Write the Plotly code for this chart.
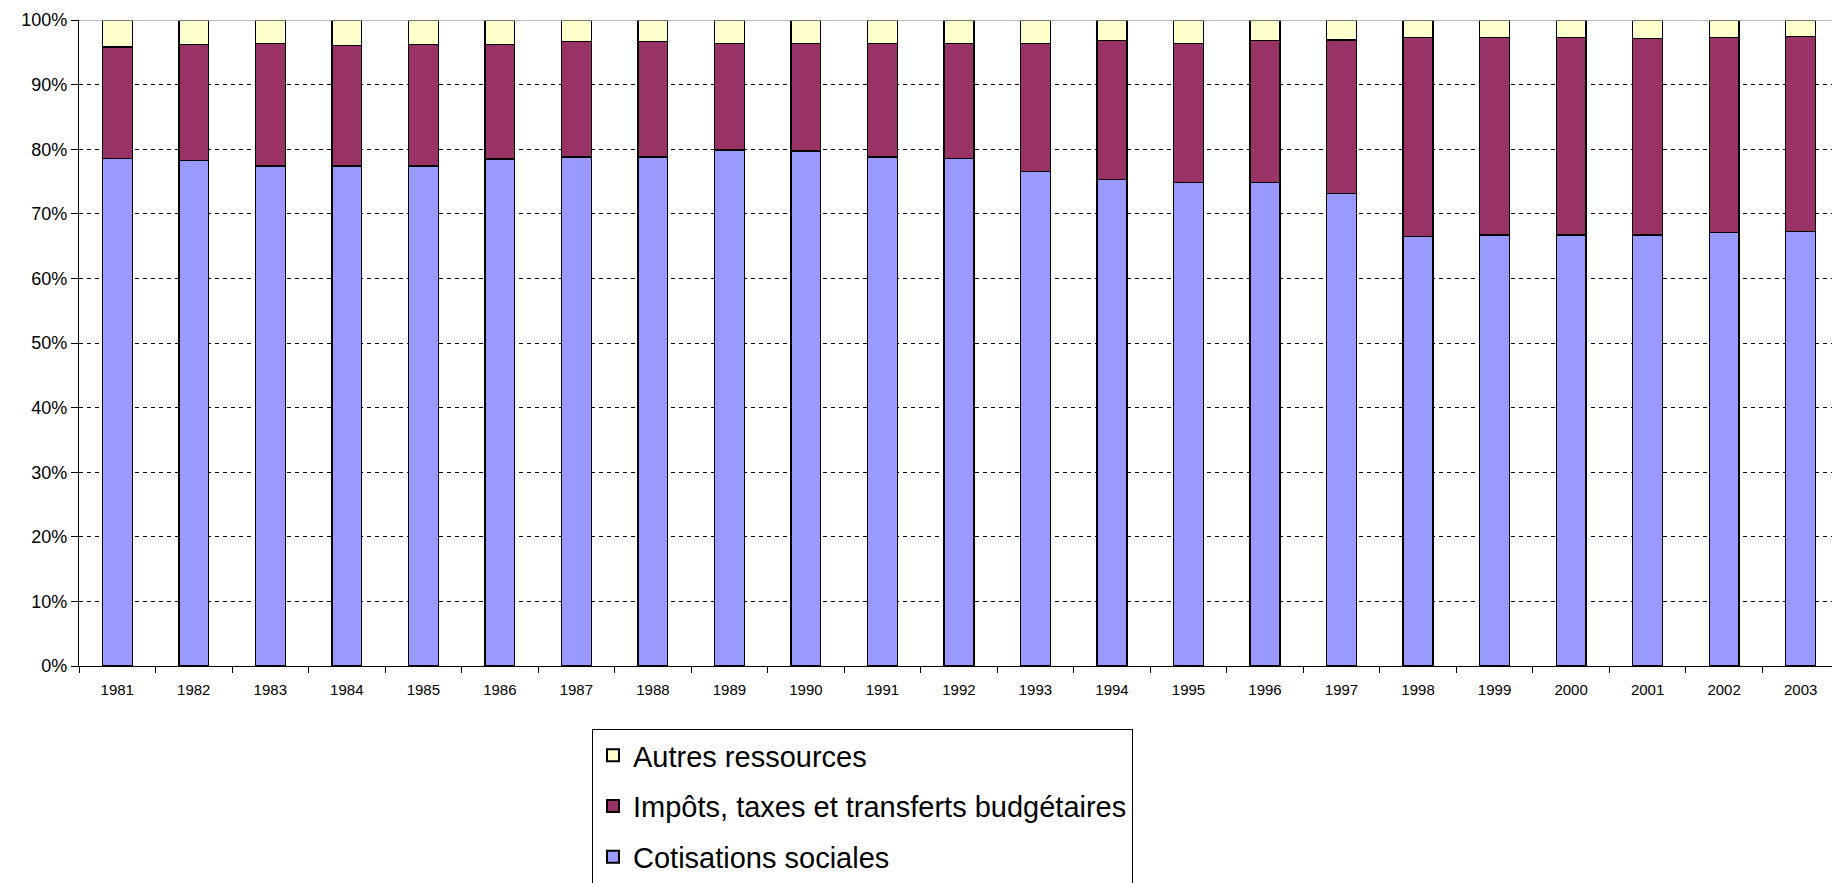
import plotly.graph_objects as go

years = [str(y) for y in range(1981, 2004)]
# cumulative tops (%)
blue_top = [78.6, 78.3, 77.4, 77.4, 77.4, 78.5, 78.8, 78.8, 79.9, 79.7, 78.8, 78.6,
            76.5, 75.3, 74.9, 74.9, 73.1, 66.5, 66.7, 66.7, 66.7, 67.1, 67.3]
purple_top = [95.8, 96.2, 96.4, 96.0, 96.2, 96.2, 96.7, 96.7, 96.4, 96.4, 96.4, 96.4,
              96.4, 96.8, 96.4, 96.8, 96.9, 97.3, 97.3, 97.3, 97.1, 97.3, 97.4]

cotisations = blue_top
impots = [round(p - b, 1) for p, b in zip(purple_top, blue_top)]
autres = [round(100 - p, 1) for p in purple_top]

font_family = "Liberation Sans, Arial, sans-serif"
line = dict(color="black", width=1.3)

fig = go.Figure()
fig.add_trace(go.Bar(x=years, y=cotisations, name="Cotisations sociales", legendgroup="c",
                     legendrank=3, marker=dict(color="#9999FF", line=line), width=0.39))
fig.add_trace(go.Bar(x=years, y=impots, name="Impôts, taxes et transferts budgétaires", legendgroup="i",
                     legendrank=2, marker=dict(color="#993366", line=line), width=0.39))
fig.add_trace(go.Bar(x=years, y=autres, name="Autres ressources", legendgroup="a",
                     legendrank=1, marker=dict(color="#FFFFCC", line=line), width=0.39))

W, H = 1832, 883
ml, mt, mb = 79, 19.5, 217
fig.update_layout(
    width=W, height=H,
    barmode="stack",
    plot_bgcolor="white", paper_bgcolor="white",
    margin=dict(l=ml, r=0, t=mt, b=mb, pad=0, autoexpand=False),
    font=dict(family=font_family, color="black"),
    showlegend=True,
    legend=dict(
        traceorder="grouped",
        xref="container", yref="container",
        x=592 / W, y=(H - 729) / H,
        xanchor="left", yanchor="top",
        bordercolor="black", borderwidth=1,
        font=dict(size=29, family=font_family),
        bgcolor="white",
        itemsizing="constant",
        tracegroupgap=10,
    ),
)
fig.update_xaxes(
    type="category",
    range=[-0.5, 22.41],
    showline=True, linecolor="black", linewidth=1.3,
    ticks="outside", ticklen=6, tickcolor="black", tickson="boundaries",
    tickfont=dict(size=15), ticklabelstandoff=10,
    showgrid=False, zeroline=False,
)
fig.update_yaxes(
    range=[0, 100],
    tickvals=[0, 10, 20, 30, 40, 50, 60, 70, 80, 90, 100],
    ticktext=["0%", "10%", "20%", "30%", "40%", "50%", "60%", "70%", "80%", "90%", "100%"],
    showline=True, linecolor="black", linewidth=1.3,
    ticks="outside", ticklen=7, tickcolor="black",
    tickfont=dict(size=18),
    showgrid=True, gridcolor="black", gridwidth=1, griddash="4px,4px",
    zeroline=False,
)
fig.add_shape(type="line", xref="paper", yref="y", x0=0, x1=1, y0=100, y1=100,
              line=dict(color="#A0A0A0", width=1.5), layer="above")
fig.write_html("out.html")
